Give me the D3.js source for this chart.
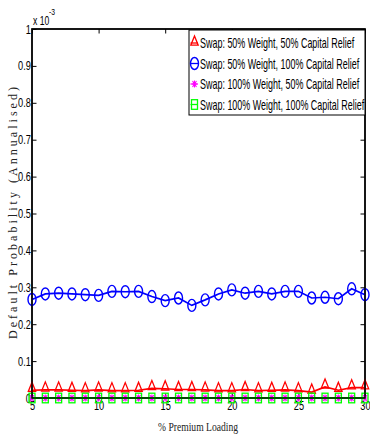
<!DOCTYPE html>
<html><head><meta charset="utf-8">
<script src="https://cdn.jsdelivr.net/npm/d3@7"></script>
<style>html,body{margin:0;padding:0;background:#fff;}svg{display:block;}</style>
</head><body>
<svg id="chart" width="370" height="434"></svg>
<script>
// Data (values in units of 1e-3)
const premiumLoading = d3.range(5, 31); // 5..30
const red50w50c   = [0.021,0.022,0.022,0.021,0.020,0.022,0.020,0.020,0.021,0.026,0.025,0.023,0.023,0.022,0.020,0.020,0.023,0.020,0.021,0.022,0.020,0.016,0.030,0.021,0.028,0.028];
const blue50w100c = [0.267,0.282,0.284,0.282,0.280,0.278,0.289,0.288,0.289,0.275,0.264,0.271,0.251,0.266,0.282,0.293,0.284,0.289,0.282,0.289,0.289,0.271,0.273,0.269,0.296,0.280];
const mag100w50c  = [0,0,0,0,0,0,0,0,0,0,0,0,0,0,0,0,0,0,0,0,0,0,0,0,0,0];
const grn100w100c = [0,0,0,0,0,0,0,0,0,0,0,0,0,0,0,0,0,0,0,0,0,0,0,0,0,0];
const xTicks = [5,10,15,20,25,30];
const yTicks = [0,0.1,0.2,0.3,0.4,0.5,0.6,0.7,0.8,0.9,1];
const seriesNames = ["Swap: 50% Weight, 50% Capital Relief","Swap: 50% Weight, 100% Capital Relief","Swap: 100% Weight, 50% Capital Relief","Swap: 100% Weight, 100% Capital Relief"];
const seriesColors = ["#ff0000","#0000ff","#ff00ff","#00ff00"];
const seriesMarkers = ["triangle","circle","star","square"];
const seriesData = [red50w50c, blue50w100c, mag100w50c, grn100w100c];

const svg = d3.select("#chart");
const L = 32, R = 365, T = 29, B = 398;
const x = d3.scaleLinear().domain([5,30]).range([L,R]);
const y = d3.scaleLinear().domain([0,1]).range([B,T]);

// horizontally condensed text placed at (px,py)
function condText(parent, px, py, f, str, size, family, anchor){
  const g = parent.append("g").attr("transform",`translate(${px},${py}) scale(${f},1)`);
  return g.append("text").attr("x",0).attr("y",0).attr("font-family",family).attr("font-size",size).attr("fill","#000").attr("text-anchor",anchor||"start").text(str);
}

function drawMarker(g, type, cx, cy, color){
  if(type==="circle"){
    g.append("ellipse").attr("cx",cx).attr("cy",cy).attr("rx",4).attr("ry",6).attr("fill","none").attr("stroke",color).attr("stroke-width",1.4);
  } else if(type==="triangle"){
    g.append("path").attr("d",`M${cx},${cy-8}L${cx+3.7},${cy+1.2}L${cx-3.7},${cy+1.2}Z`).attr("fill","none").attr("stroke",color).attr("stroke-width",1.3);
  } else if(type==="square"){
    g.append("rect").attr("x",cx-3).attr("y",cy-4.8).attr("width",6).attr("height",9.6).attr("fill","none").attr("stroke",color).attr("stroke-width",1.3);
  } else if(type==="star"){
    const p=`M${cx},${cy-3.5}L${cx},${cy+3.5}M${cx-2.5},${cy}L${cx+2.5},${cy}M${cx-2},${cy-3}L${cx+2},${cy+3}M${cx-2},${cy+3}L${cx+2},${cy-3}`;
    g.append("path").attr("d",p).attr("fill","none").attr("stroke",color).attr("stroke-width",1.1);
  }
}

// Plot box
svg.append("rect").attr("x",L).attr("y",T).attr("width",R-L).attr("height",B-T).attr("fill","#fff").attr("stroke","#000").attr("stroke-width",1.4);

// Axes (inward ticks)
const tickFont = "Liberation Sans, Arial, sans-serif";
const gx = svg.append("g").attr("transform",`translate(0,${B})`)
  .call(d3.axisBottom(x).tickValues(xTicks).tickSizeInner(-4.5).tickSizeOuter(0).tickPadding(3).tickFormat(d3.format("d")));
const gxt = svg.append("g").attr("transform",`translate(0,${T})`)
  .call(d3.axisTop(x).tickValues(xTicks).tickSizeInner(-4.5).tickSizeOuter(0).tickFormat(""));
const gy = svg.append("g").attr("transform",`translate(${L},0)`)
  .call(d3.axisLeft(y).tickValues(yTicks).tickSizeInner(-4.5).tickSizeOuter(0).tickPadding(1.5).tickFormat(d => (d===0||d===1)? String(d) : d.toFixed(1)));
const gyr = svg.append("g").attr("transform",`translate(${R},0)`)
  .call(d3.axisRight(y).tickValues(yTicks).tickSizeInner(-4.5).tickSizeOuter(0).tickFormat(""));
[gx,gxt,gy,gyr].forEach(g=>{ g.select(".domain").remove(); g.selectAll("line").attr("stroke","#000").attr("stroke-width",1); });
gx.selectAll("text").attr("font-family",tickFont).attr("font-size","12.5px").attr("fill","#000").attr("transform","scale(0.74,1)");
gy.selectAll("text").attr("font-family",tickFont).attr("font-size","12.5px").attr("fill","#000").attr("transform","scale(0.74,1)");

// Series
const line = d3.line().x((d,i)=>x(premiumLoading[i])).y(d=>y(d));
seriesData.forEach((data,k)=>{
  const g = svg.append("g");
  g.append("path").datum(data).attr("d",line).attr("fill","none").attr("stroke",seriesColors[k]).attr("stroke-width",k===3?2:1.7);
  data.forEach((v,i)=> drawMarker(g, seriesMarkers[k], x(premiumLoading[i]), y(v), seriesColors[k]));
});

// Re-draw box border on top
svg.append("rect").attr("x",L).attr("y",T).attr("width",R-L).attr("height",B-T).attr("fill","none").attr("stroke","#000").attr("stroke-width",1.4);

// Exponent
condText(svg, L+1, 25, 0.72, "x 10", "12px", tickFont);
condText(svg, L+17, 15, 0.75, "-3", "9px", tickFont);

// Legend
const lg = svg.append("g");
lg.append("rect").attr("x",189).attr("y",30).attr("width",176).attr("height",85).attr("fill","#fff").attr("stroke","#000").attr("stroke-width",1);
const rowY = [43,63.5,84,104.5];
seriesNames.forEach((name,k)=>{
  const cy = rowY[k];
  lg.append("line").attr("x1",190.5).attr("x2",198).attr("y1",cy).attr("y2",cy).attr("stroke",seriesColors[k]).attr("stroke-width",1.3);
  drawMarker(lg, seriesMarkers[k], 194.5, k===0? cy+1 : cy, seriesColors[k]);
  condText(lg, 200, cy+5, 0.64, name, "14px", tickFont);
});

// Axis labels
condText(svg, 198, 431, 0.74, "% Premium Loading", "13px", "Liberation Serif, Times New Roman, serif", "middle").attr("fill","#222");
svg.append("text").attr("transform","translate(17,213) rotate(-90)").attr("text-anchor","middle").attr("font-family","Liberation Serif, Times New Roman, serif").attr("font-size","12px").attr("fill","#222").attr("textLength",252).attr("lengthAdjust","spacing").text("Default Probability (Annualised)");
</script>
</body></html>
